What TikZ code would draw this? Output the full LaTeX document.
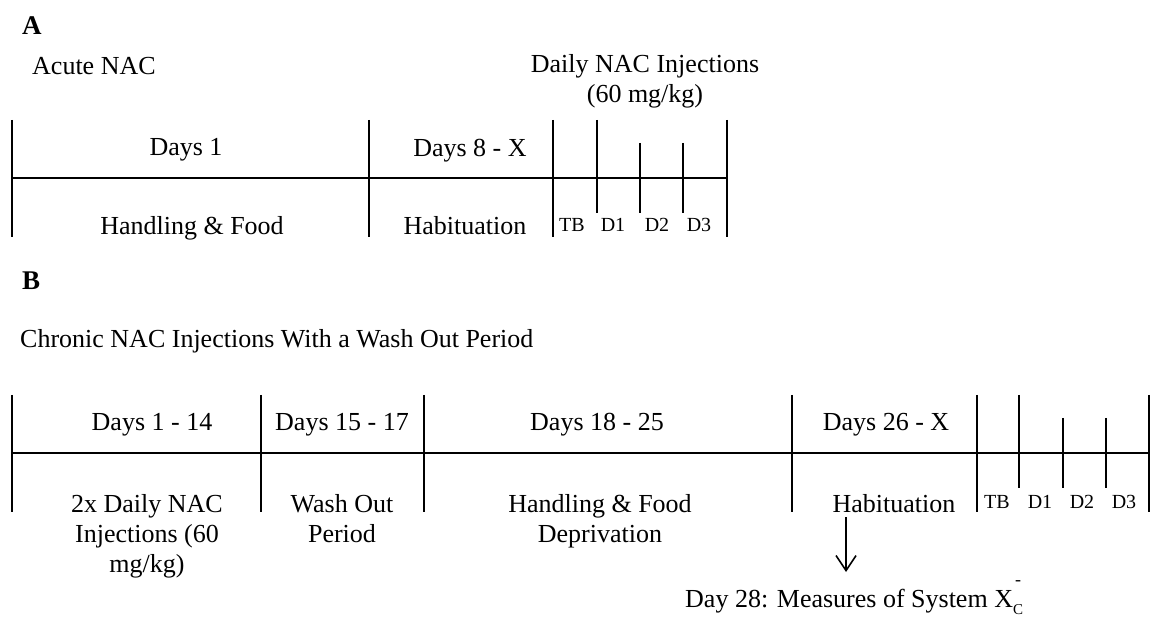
\documentclass[tikz,border=0pt]{standalone}
\usepackage{fontspec}
\setmainfont{Liberation Serif}
\usetikzlibrary{arrows.meta}
\begin{document}
\begin{tikzpicture}[x=1pt,y=-1pt,
  lbl/.style={inner sep=0pt, anchor=base, font=\fontsize{26}{30}\selectfont, align=center},
  lblw/.style={lbl, anchor=base west, align=left},
  small/.style={inner sep=0pt, anchor=base, font=\fontsize{20}{24}\selectfont},
  head/.style={inner sep=0pt, anchor=base west, font=\fontsize{27}{30}\selectfont\bfseries},
  tl/.style={line width=1.6pt},
  arr/.style={line width=1.6pt, -{Straight Barb[length=15pt,width=20pt,line width=1.6pt]}},
  ]
\useasboundingbox (0,0) rectangle (1152,620);

% ---------- Panel A ----------
\node[head] (A) at (22,35) {A};
\node[lblw] (acute) at (32,75) {Acute NAC};
% base anchor of a multi-line node = baseline of its last line
\node[lbl] (daily) at (645,103) {Daily NAC Injections\\(60 mg/kg)};

\foreach \x in {12,369,553,727} \draw[tl] (\x,120) -- (\x,237);
\draw[tl] (597,120) -- (597,213);
\foreach \x in {640,683} \draw[tl] (\x,143) -- (\x,213);
\draw[tl] (12,178) -- (727,178);

\node[lbl] (a1) at (186,156) {Days 1};
\node[lbl] (a2) at (192,235) {Handling \& Food};
\node[lbl] (a3) at (470,157) {Days 8 - X};
\node[lbl] (a4) at (465,235) {Habituation};
\node[small] (atb) at (572,232) {TB};
\node[small] (ad1) at (613,232) {D1};
\node[small] (ad2) at (657,232) {D2};
\node[small] (ad3) at (699,232) {D3};

% ---------- Panel B ----------
\node[head] (B) at (22,290) {B};
\node[lblw] (chronic) at (20,348) {Chronic NAC Injections With a Wash Out Period};

\foreach \x in {12,261,424,792,977,1149} \draw[tl] (\x,395) -- (\x,512);
\draw[tl] (1019,395) -- (1019,488);
\foreach \x in {1063,1106} \draw[tl] (\x,418) -- (\x,488);
\draw[tl] (12,453) -- (1149,453);

\node[lbl] (b1) at (152,431) {Days 1 - 14};
\node[lbl] (b2) at (342,431) {Days 15 - 17};
\node[lbl] (b3) at (597,431) {Days 18 - 25};
\node[lbl] (b4) at (886,431) {Days 26 - X};
\node[lbl] (b5) at (147,572) {2x Daily NAC\\Injections (60\\mg/kg)};
\node[lbl] (b6) at (342,542) {Wash Out\\Period};
\node[lbl] (b7) at (600,542) {Handling \& Food\\Deprivation};
\node[lbl] (hab) at (894,512) {Habituation};
\node[small] (btb) at (997,508) {TB};
\node[small] (bd1) at (1040,508) {D1};
\node[small] (bd2) at (1082,508) {D2};
\node[small] (bd3) at (1124,508) {D3};

\node[lblw] (day28) at (685,607) {Day 28: Measures of System X\raisebox{-7pt}{\fontsize{15}{15}\selectfont C}\hspace{-8pt}\raisebox{22pt}{\fontsize{18}{18}\selectfont -}};

\coordinate (arrtop) at (846,517);
\coordinate (arrbot) at (846,572);
\draw[arr] (arrtop) -- (arrbot);
\end{tikzpicture}
\end{document}
